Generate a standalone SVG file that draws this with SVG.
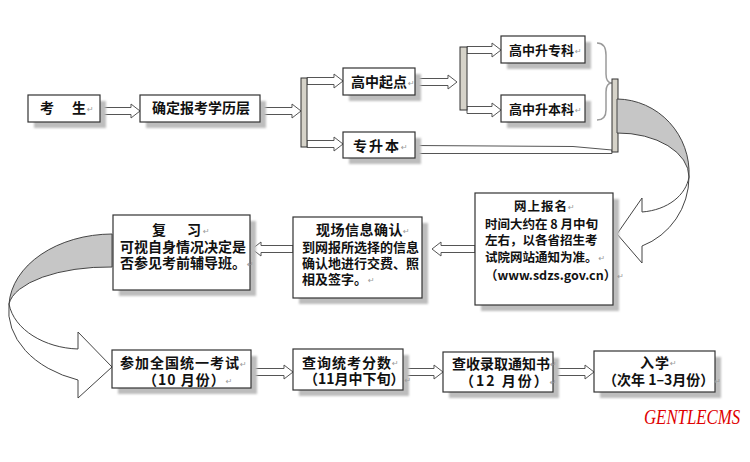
<svg xmlns="http://www.w3.org/2000/svg" width="750" height="462" viewBox="0 0 750 462">
<defs>
<filter id="blur" x="-10%" y="-10%" width="120%" height="120%"><feGaussianBlur stdDeviation="1.2"/></filter>
<style>
.box{fill:#fff;stroke:#333;stroke-width:1.2}
.sh{fill:#bdbdbd;filter:url(#blur)}
.t{font-family:"Noto Sans CJK SC","Liberation Sans",sans-serif;font-weight:bold;font-size:14px;fill:#111}
.s13{font-size:13px}
.s12{font-size:12.5px}
.pm{font-family:"DejaVu Sans",sans-serif;font-weight:normal;font-size:8px;fill:#999;letter-spacing:0}
.arr{fill:#fff;stroke:#555;stroke-width:1}
.bar{fill:#d6d3c9;stroke:#333;stroke-width:1}
.cb{fill:#c6c6c6;stroke:#444;stroke-width:1}
.cf{fill:#fff;stroke:#444;stroke-width:1}
</style>
</defs>
<rect width="750" height="462" fill="#fff"/>

<g id="connectors">
<path class="arr" d="M100,107.5 H131 V104 L140,111 L131,118 V114.5 H100 Z"/>
<path class="arr" d="M260,107.5 H292 V104 L301,111 L292,118 V114.5 H260 Z"/>
<path class="arr" d="M307,77.5 H334 V74 L343,81 L334,88 V84.5 H307 Z"/>
<path class="arr" d="M307,140.5 H334 V137 L343,144 L334,151 V147.5 H307 Z"/>
<path class="arr" d="M415,78.5 H448 V75 L457,82 L448,89 V85.5 H415 Z"/>
<path class="arr" d="M467,46.5 H492 V43 L501,50 L492,57 V53.5 H467 Z"/>
<path class="arr" d="M467,106.5 H492 V103 L501,110 L492,117 V113.5 H467 Z"/>
<path class="arr" d="M415,145.5 L573,146.5 L612,150 L612,153.5 L415,153.5 Z"/>
<path class="arr" d="M475,245.5 H441 V242 L432,249 L441,256 V252.5 H475 Z"/>
<path class="arr" d="M293,245.5 H261 V242 L252,249 L261,256 V252.5 H293 Z"/>
<path class="arr" d="M251,368.5 H284 V365 L293,372 L284,379 V375.5 H251 Z"/>
<path class="arr" d="M403,368.5 H434 V365 L443,372 L434,379 V375.5 H403 Z"/>
<path class="arr" d="M553,368.5 H585 V365 L594,372 L585,379 V375.5 H553 Z"/>
<rect class="bar" x="301" y="78" width="6" height="69"/>
<rect class="bar" x="460" y="47" width="7" height="63"/>
<path d="M597,43 Q606,43 606,55 L606,74 Q606,83 612,83 Q606,83 606,92 L606,110 Q606,120 597,120" fill="none" stroke="#9a9a9a" stroke-width="1.5"/>
<rect class="bar" x="612" y="79" width="6" height="73"/>
<path class="cb" d="M617,99 A73,74 0 0 1 689,177 A71,44 0 0 0 617,133 Z"/>
<path class="cf" d="M689,177 A73,74 0 0 1 642,246 L642,263 L617,234 L642,198 L642,212 C668,210 686,195 689,177 Z"/>
<path class="cb" d="M112,234 A104,74 0 0 0 9,304 A100,41 0 0 1 112,267 Z"/>
<path class="cf" d="M9,304 A104,74 0 0 0 78,380 L78,398 L112,367 L78,332 L78,349 C45,348 14,330 9,304 Z"/>
</g>

<g id="n-kaosheng">
<rect class="sh" x="34" y="101" width="72" height="27"/>
<rect class="box" x="28" y="95" width="72" height="27"/>
<text class="t" x="40 72" y="113">考生<tspan class="pm" dx="1" dy="-1">↵</tspan></text>
</g>
<g id="n-queding">
<rect class="sh" x="146" y="101" width="120" height="27"/>
<rect class="box" x="140" y="95" width="120" height="27"/>
<text class="t" x="152" y="113">确定报考学历层</text>
</g>
<g id="n-gaozhongqidian">
<rect class="sh" x="349" y="74" width="72" height="27"/>
<rect class="box" x="343" y="68" width="72" height="27"/>
<text class="t" x="351" y="87">高中起点<tspan class="pm" dx="1" dy="-1">↵</tspan></text>
</g>
<g id="n-gzszk">
<rect class="sh" x="507" y="42" width="84" height="27"/>
<rect class="box" x="501" y="36" width="84" height="27"/>
<text class="t s13" x="509" y="55">高中升专科<tspan class="pm" dx="1" dy="-1">↵</tspan></text>
</g>
<g id="n-gzsbk">
<rect class="sh" x="507" y="101" width="84" height="27"/>
<rect class="box" x="501" y="95" width="84" height="27"/>
<text class="t s13" x="509" y="114">高中升本科<tspan class="pm" dx="1" dy="-1">↵</tspan></text>
</g>
<g id="n-zhuanshengben">
<rect class="sh" x="349" y="138" width="72" height="26"/>
<rect class="box" x="343" y="132" width="72" height="26"/>
<text class="t" x="353" y="151" letter-spacing="2">专升本<tspan class="pm" dy="-1">↵</tspan></text>
</g>
<g id="n-wangshang">
<rect class="sh" x="481" y="199" width="138" height="112"/>
<rect class="box" x="475" y="193" width="138" height="112"/>
<text class="t s12" x="514" y="211" letter-spacing="1">网上报名<tspan class="pm" dy="-1">↵</tspan></text>
<text class="t s12" x="485" y="229">时间大约在 8 月中旬</text>
<text class="t s12" x="485" y="245">左右，以各省招生考</text>
<text class="t s12" x="485" y="262">试院网站通知为准。<tspan class="pm" dx="1" dy="-1">↵</tspan></text>
<text class="t s12" x="485" y="280">（www.sdzs.gov.cn）<tspan class="pm" dx="1" dy="-1">↵</tspan></text>
</g>
<g id="n-xianchang">
<rect class="sh" x="299" y="223" width="129" height="81"/>
<rect class="box" x="293" y="217" width="129" height="81"/>
<text class="t" x="316" y="235" letter-spacing="0.5">现场信息确认<tspan class="pm" dy="-1">↵</tspan></text>
<text class="t s13" x="302" y="252">到网报所选择的信息</text>
<text class="t s13" x="302" y="268">确认地进行交费、照</text>
<text class="t s13" x="302" y="284">相及签字。<tspan class="pm" dx="1" dy="-1">↵</tspan></text>
</g>
<g id="n-fuxi">
<rect class="sh" x="119" y="221" width="137" height="75"/>
<rect class="box" x="113" y="215" width="137" height="75"/>
<text class="t" x="152 187" y="235">复习<tspan class="pm" dx="2" dy="-1">↵</tspan></text>
<text class="t" x="120" y="252" font-size="13.6">可视自身情况决定是</text>
<text class="t" x="120" y="268" font-size="13.6">否参见考前辅导班。<tspan class="pm" dx="1" dy="-1">↵</tspan></text>
</g>
<g id="n-canjia">
<rect class="sh" x="118" y="356" width="139" height="38"/>
<rect class="box" x="112" y="350" width="139" height="38"/>
<text class="t" x="120" y="368" letter-spacing="1">参加全国统一考试<tspan class="pm" dy="-1">↵</tspan></text>
<text class="t" x="143" y="385" letter-spacing="1">（10 月份）<tspan class="pm" dy="-1">↵</tspan></text>
</g>
<g id="n-chaxun">
<rect class="sh" x="299" y="355" width="110" height="41"/>
<rect class="box" x="293" y="349" width="110" height="41"/>
<text class="t" x="302" y="368" letter-spacing="1">查询统考分数<tspan class="pm" dy="-2">↵</tspan></text>
<text class="t" x="304" y="384" font-size="12.6">（11月中下旬）<tspan class="pm" dy="-1">↵</tspan></text>
</g>
<g id="n-chashou">
<rect class="sh" x="449" y="358" width="110" height="40"/>
<rect class="box" x="443" y="352" width="110" height="40"/>
<text class="t" x="452" y="369" font-size="13.2">查收录取通知书<tspan class="pm" dy="-2">↵</tspan></text>
<text class="t" x="460" y="386" letter-spacing="2">（12 月份）<tspan class="pm" dy="-1">↵</tspan></text>
</g>
<g id="n-ruxue">
<rect class="sh" x="600" y="357" width="121" height="41"/>
<rect class="box" x="594" y="351" width="121" height="41"/>
<text class="t" x="640" y="368" letter-spacing="1">入学<tspan class="pm" dy="-2">↵</tspan></text>
<text class="t" x="603" y="385" font-size="12.8">（次年 1–3月份）<tspan class="pm" dy="-1">↵</tspan></text>
</g>
<text transform="translate(644,424) scale(0.8,1)" x="0" y="0" font-family="Liberation Serif,serif" font-style="italic" font-size="21" fill="#e00000">GENTLECMS</text>
</svg>
